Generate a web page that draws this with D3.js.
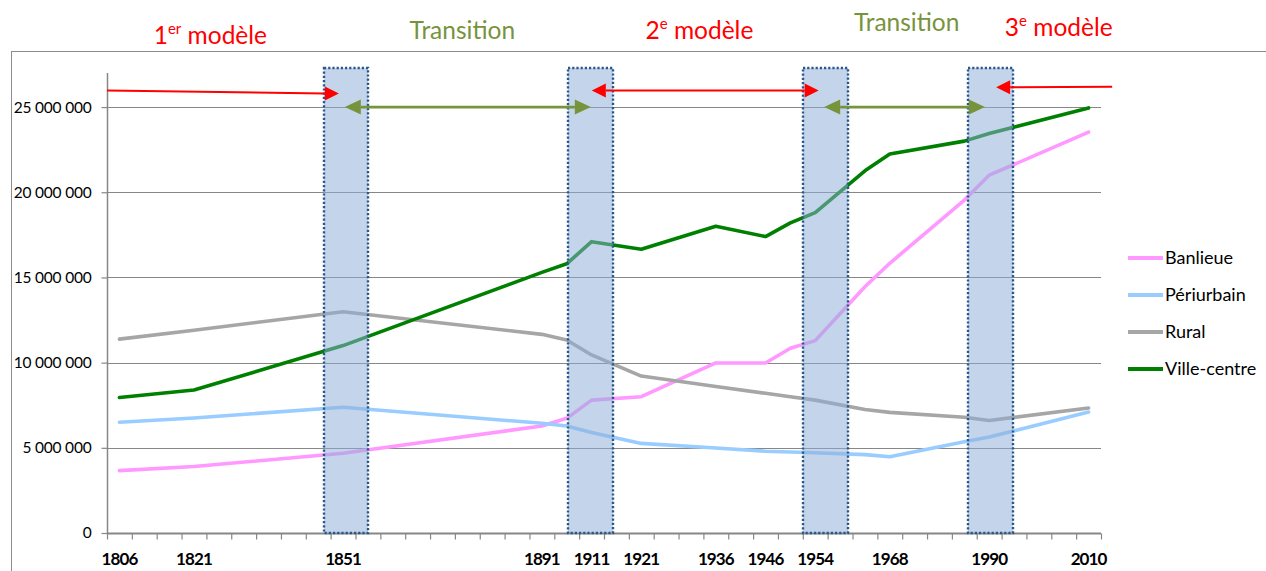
<!DOCTYPE html>
<html>
<head>
<meta charset="utf-8">
<script src="https://cdn.jsdelivr.net/npm/d3@7"></script>
<style>
  html, body { margin: 0; padding: 0; background: #fff; }
  svg { display: block; font-family: Lato, 'Open Sans', sans-serif; }
</style>
</head>
<body>
<div id="chart"></div>
<script>
// Category slots on the x axis (only some carry a label)
const slotLabels = ['1806', '', '', '1821', '', '', '', '', '', '1851', '', '', '', '', '', '', '', '1891', '', '1911',
    '', '1921', '', '', '1936', '', '1946', '', '1954', '', '', '1968', '', '', '', '1990', '', '', '', '2010'];

// Slots holding a value
const pointSlots = [0, 3, 9, 17, 18, 19, 21, 24, 26, 27, 28, 30, 31, 34, 35, 39];

// Population per series
const banlieue = [3660000, 3900000, 4680000, 6280000, 6730000, 7800000, 8000000, 9980000, 9980000, 10840000,
    11290000, 14450000, 15830000, 19540000, 21000000, 23530000];
const periurbain = [6500000, 6750000, 7380000, 6440000, 6280000, 5900000, 5260000, 4990000, 4800000, 4750000,
    4710000, 4600000, 4480000, 5360000, 5630000, 7100000];
const rural = [11380000, 11900000, 12990000, 11660000, 11330000, 10450000, 9210000, 8600000, 8200000, 8000000,
    7800000, 7250000, 7080000, 6790000, 6600000, 7340000];
const villeCentre = [7950000, 8390000, 11000000, 15300000, 15800000, 17100000, 16650000, 18000000, 17400000, 18200000,
    18800000, 21260000, 22240000, 23000000, 23450000, 24950000];

const seriesNames = ['Banlieue', 'Périurbain', 'Rural', 'Ville-centre'];
const seriesColors = ['#ff99ff', '#99ccff', '#a6a6a6', '#008000'];
const seriesValues = [banlieue, periurbain, rural, villeCentre];

const yTicks = [0, 5000000, 10000000, 15000000, 20000000, 25000000];

// Shaded transition periods, in slot units
const bandSlots = [[8.73, 10.5], [18.55, 20.35], [28.0, 29.8], [34.65, 36.45]];

// Period titles above the plot
const periodTitles = [
    {main: '1', sup: 'er', rest: ' modèle', slot: 4.16, color: '#ff0000', y: 44},
    {main: 'Transition', sup: '', rest: '', slot: 14.3, color: '#77933c', y: 39},
    {main: '2', sup: 'e', rest: ' modèle', slot: 23.84, color: '#ff0000', y: 39},
    {main: 'Transition', sup: '', rest: '', slot: 32.18, color: '#77933c', y: 31},
    {main: '3', sup: 'e', rest: ' modèle', slot: 38.3, color: '#ff0000', y: 36}
];

// Period arrows [fromSlot, toSlot, heads]
const redArrows = [[0, 9.33, 'end'], [19.51, 28.64, 'both'], [40.45, 35.78, 'end']];
const greenArrows = [[9.57, 19.47], [28.86, 35.33]];

/*
 CONFIG
 */
const W = 1266, H = 571;
const plot = {left: 107, right: 1101, top: 73, bottom: 533};
const gridColor = '#878787';

const svg = d3.select('#chart').append('svg')
    .attr('width', W)
    .attr('height', H);

// Scales
const x = d3.scaleLinear().domain([0, slotLabels.length]).range([plot.left, plot.right]);
const y = d3.scaleLinear().domain([0, 27000000]).range([plot.bottom, plot.top]);

// Outer chart frame (runs off the picture at right and bottom)
svg.append('rect')
    .attr('x', 11.5).attr('y', 51.5)
    .attr('width', W).attr('height', H)
    .attr('fill', 'none')
    .attr('stroke', '#8c8c8c')
    .attr('stroke-width', 1);

// Gridlines
svg.append('g')
    .selectAll('line')
    .data(yTicks.filter(d => d > 0))
    .join('line')
    .attr('x1', plot.left).attr('x2', plot.right)
    .attr('y1', d => Math.round(y(d)) + 0.5).attr('y2', d => Math.round(y(d)) + 0.5)
    .attr('stroke', gridColor)
    .attr('stroke-width', 1.2);

// Y axis
const axisY = svg.append('g')
    .attr('transform', `translate(${plot.left + 0.5},0)`)
    .call(d3.axisLeft(y).tickValues(yTicks).tickSize(6).tickPadding(10)
        .tickFormat(d => d3.format(',')(d).replace(/,/g, ' ')));
axisY.select('.domain').attr('d', `M0,${plot.top}V${plot.bottom}`).attr('stroke', gridColor).attr('stroke-width', 1.5);
axisY.selectAll('.tick line').attr('stroke', gridColor).attr('stroke-width', 1.2);
axisY.selectAll('.tick text')
    .attr('fill', '#000')
    .attr('font-size', 15.5)
    .attr('letter-spacing', -0.2)
    .attr('font-family', 'Lato, sans-serif');

// X axis (ticks on slot boundaries)
const axisX = svg.append('g')
    .attr('transform', `translate(0,${plot.bottom + 0.5})`)
    .call(d3.axisBottom(x).tickValues(d3.range(slotLabels.length + 1)).tickSize(6).tickFormat(''));
axisX.select('.domain').attr('d', `M${plot.left},0H${plot.right}`).attr('stroke', gridColor).attr('stroke-width', 2);
axisX.selectAll('.tick line').attr('stroke', gridColor).attr('stroke-width', 1.2);

// X labels centred in their slot
svg.append('g')
    .selectAll('text')
    .data(slotLabels.map((d, i) => ({label: d, i})).filter(d => d.label !== ''))
    .join('text')
    .attr('x', d => x(d.i + 0.5))
    .attr('y', 565)
    .attr('text-anchor', 'middle')
    .attr('font-weight', 'bold')
    .attr('font-size', 17)
    .attr('letter-spacing', -0.9)
    .attr('fill', '#000')
    .text(d => d.label);

// Lines
const line = d3.line()
    .x((d, i) => x(pointSlots[i] + 0.5))
    .y(d => y(d));

svg.append('g')
    .selectAll('path')
    .data(seriesValues)
    .join('path')
    .attr('d', d => line(d))
    .attr('fill', 'none')
    .attr('stroke', (d, i) => seriesColors[i])
    .attr('stroke-width', 3.6)
    .attr('stroke-linejoin', 'round')
    .attr('stroke-linecap', 'round');

// Transition bands
svg.append('g')
    .selectAll('rect')
    .data(bandSlots)
    .join('rect')
    .attr('x', d => Math.round(x(d[0])))
    .attr('y', 68)
    .attr('width', d => Math.round(x(d[1]) - x(d[0])))
    .attr('height', plot.bottom - 68)
    .attr('fill', '#8eaed8')
    .attr('fill-opacity', 0.52)
    .attr('stroke', '#2a5889')
    .attr('stroke-width', 2.4)
    .attr('stroke-dasharray', '2.2,2');

// Arrows
function arrowHead(g, tipX, tipY, dir, len, wid, color) {
    g.append('path')
        .attr('d', `M${tipX},${tipY}L${tipX - dir * len},${tipY - wid / 2}L${tipX - dir * len},${tipY + wid / 2}Z`)
        .attr('fill', color);
}

function drawArrow(g, x1, y1, x2, y2, heads, color, width, len, wid) {
    const dir = x2 > x1 ? 1 : -1;
    const sx = heads === 'both' ? x1 + dir * len : x1;
    const ex = x2 - dir * len;
    g.append('line')
        .attr('x1', sx).attr('y1', y1)
        .attr('x2', ex).attr('y2', y2)
        .attr('stroke', color)
        .attr('stroke-width', width);
    arrowHead(g, x2, y2, dir, len, wid, color);
    if (heads === 'both') arrowHead(g, x1, y1, -dir, len, wid, color);
}

const arrowsG = svg.append('g');
const redY = [[90.5, 93.5], [90.5, 90.5], [86.7, 87.3]];
redArrows.forEach((a, i) => {
    drawArrow(arrowsG, x(a[0]), redY[i][0], x(a[1]), redY[i][1], a[2], '#ff0000', 2, 14, 14);
});
greenArrows.forEach(a => {
    drawArrow(arrowsG, x(a[0]), y(25000000), x(a[1]), y(25000000), 'both', '#77933c', 2.8, 16, 15);
});

// Period titles
const titles = svg.append('g')
    .selectAll('text')
    .data(periodTitles)
    .join('text')
    .attr('x', d => x(d.slot))
    .attr('y', d => d.y)
    .attr('text-anchor', 'middle')
    .attr('font-size', 24.5)
    .attr('fill', d => d.color);
titles.append('tspan').text(d => d.main);
titles.filter(d => d.sup !== '').append('tspan')
    .attr('font-size', 15)
    .attr('dy', -10)
    .text(d => d.sup);
titles.filter(d => d.rest !== '').append('tspan')
    .attr('dy', 10)
    .text(d => d.rest);

// Legend
const legend = svg.append('g')
    .selectAll('g')
    .data(seriesNames)
    .join('g')
    .attr('transform', (d, i) => `translate(1128,${258 + i * 37})`);
legend.append('line')
    .attr('x1', 0).attr('x2', 35)
    .attr('stroke', (d, i) => seriesColors[i])
    .attr('stroke-width', 4);
legend.append('text')
    .attr('x', 37)
    .attr('dy', '0.35em')
    .attr('font-size', 18)
    .attr('fill', '#000')
    .text(d => d);
</script>
</body>
</html>
